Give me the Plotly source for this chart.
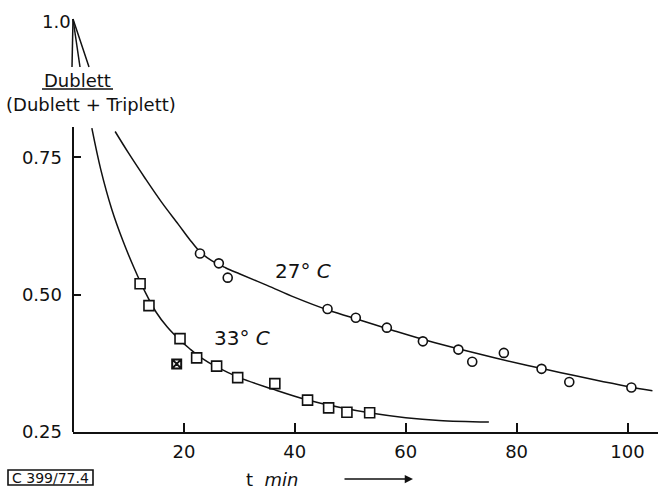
import plotly.graph_objects as go

# ---- data ----
# measured points, 27 °C (circles)
t27 = [22.9, 26.3, 27.9, 45.9, 51.0, 56.6, 63.1, 69.5, 72.0, 77.7, 84.5, 89.5, 100.7]
r27 = [0.575, 0.557, 0.531, 0.474, 0.458, 0.440, 0.415, 0.400, 0.378, 0.394, 0.365, 0.341, 0.331]
# measured points, 33 °C (squares)
t33 = [12.1, 13.7, 19.3, 22.3, 25.9, 29.7, 36.4, 42.3, 46.1, 49.4, 53.5]
r33 = [0.520, 0.480, 0.420, 0.385, 0.370, 0.349, 0.338, 0.308, 0.294, 0.286, 0.285]
# crossed square (outlier, 33 °C)
t33x = [18.7]
r33x = [0.374]
# fitted curves
fit27_t = [7.6, 10, 13, 16, 19, 21, 23, 25, 27.5, 30, 35, 40, 46, 52, 58, 64, 70, 76, 82, 88, 94, 100, 104.5]
fit27_r = [0.797, 0.758, 0.712, 0.668, 0.628, 0.601, 0.577, 0.562, 0.549, 0.538, 0.517, 0.495, 0.472,
           0.453, 0.434, 0.416, 0.400, 0.385, 0.371, 0.358, 0.345, 0.333, 0.325]
fit33_t = [3.4, 5, 7, 9, 11, 13, 15, 17, 19, 21, 23, 26, 30, 36, 42, 48, 54, 60, 66, 75]
fit33_r = [0.803, 0.728, 0.655, 0.598, 0.549, 0.505, 0.468, 0.441, 0.420, 0.402, 0.386, 0.368,
           0.349, 0.328, 0.309, 0.295, 0.284, 0.276, 0.271, 0.268]

xticks = [20, 40, 60, 80, 100]
yticks = [0.25, 0.50, 0.75]
yticktext = ["0.25", "0.50", "0.75"]

# ---- layout geometry ----
W, H = 658, 491
ML, MR, MT, MB = 73, 0, 20, 59
PW, PH = W - ML - MR, H - MT - MB


def px(x):
    return (x - ML) / PW


def py(y):
    return (H - MB - y) / PH


FONT = "DejaVu Sans"
INK = "#111"

fig = go.Figure()
fig.add_trace(go.Scatter(x=fit27_t, y=fit27_r, mode="lines",
                         line=dict(color=INK, width=1.5, shape="spline", smoothing=1.0),
                         hoverinfo="skip"))
fig.add_trace(go.Scatter(x=fit33_t, y=fit33_r, mode="lines",
                         line=dict(color=INK, width=1.5, shape="spline", smoothing=1.0),
                         hoverinfo="skip"))
fig.add_trace(go.Scatter(x=t27, y=r27, mode="markers",
                         marker=dict(symbol="circle", size=9, color="white", line=dict(color=INK, width=1.6))))
fig.add_trace(go.Scatter(x=t33, y=r33, mode="markers",
                         marker=dict(symbol="square", size=10, color="white", line=dict(color=INK, width=1.6))))
fig.add_trace(go.Scatter(x=t33x, y=r33x, mode="markers",
                         marker=dict(symbol="square-x-open", size=9, color=INK, line=dict(color=INK, width=2))))

shapes = [
    # y axis line (partial)
    dict(type="line", xref="paper", yref="paper", x0=0, x1=0, y0=py(127), y1=0,
         line=dict(color=INK, width=2)),
    # fan lines from 1.0
    dict(type="line", xref="paper", yref="paper", x0=px(73), y0=py(19), x1=px(72), y1=py(67),
         line=dict(color=INK, width=1.5)),
    dict(type="line", xref="paper", yref="paper", x0=px(73), y0=py(19), x1=px(80), y1=py(67),
         line=dict(color=INK, width=1.5)),
    dict(type="line", xref="paper", yref="paper", x0=px(73), y0=py(19), x1=px(89), y1=py(67),
         line=dict(color=INK, width=1.5)),
    # fraction bar
    dict(type="line", xref="paper", yref="paper", x0=px(42), y0=py(89), x1=px(113), y1=py(89),
         line=dict(color=INK, width=1.5)),
    # box around code
    dict(type="rect", xref="paper", yref="paper", x0=px(8), y0=py(470), x1=px(93), y1=py(485),
         line=dict(color=INK, width=1.6)),
]

ann = [
    dict(text="1.0", x=px(56), y=py(21)),
    dict(text="Dublett", x=px(77.5), y=py(80)),
    dict(text="(Dublett + Triplett)", x=px(91), y=py(104)),
    dict(text="27° <i>C</i>", x=px(303), y=py(271), size=20),
    dict(text="33° <i>C</i>", x=px(242), y=py(338), size=20),
    dict(text="t  <i>min</i>", x=px(272), y=py(479), size=18),
    dict(text="C 399/77.4", x=px(50.5), y=py(478), size=14),
]
annotations = []
for a in ann:
    annotations.append(dict(text=a["text"], x=a["x"], y=a["y"], xref="paper", yref="paper",
                            xanchor="center", yanchor="middle", showarrow=False,
                            font=dict(family=FONT, size=a.get("size", 18), color=INK)))
# arrow next to "t min"
annotations.append(dict(text="", x=px(413), y=py(479), xref="paper", yref="paper",
                        ax=-70, ay=0, axref="pixel", ayref="pixel", showarrow=True,
                        arrowhead=2, arrowsize=1.1, arrowwidth=1.5, arrowcolor=INK))

fig.update_layout(
    width=W, height=H,
    margin=dict(l=ML, r=MR, t=MT, b=MB, pad=0),
    paper_bgcolor="white", plot_bgcolor="white",
    showlegend=False,
    shapes=shapes,
    annotations=annotations,
    font=dict(family=FONT, size=18, color=INK),
    xaxis=dict(range=[0, 105.5], tickvals=xticks, ticks="inside", ticklen=9, tickwidth=1.5,
               tickcolor=INK, showline=True, linewidth=2, linecolor=INK, showgrid=False,
               zeroline=False, ticklabelstandoff=2,
               tickfont=dict(family=FONT, size=18, color=INK)),
    yaxis=dict(range=[0.25, 1.0], tickvals=yticks, ticktext=yticktext, ticks="inside", ticklen=8,
               tickwidth=1.5, tickcolor=INK, showline=False, showgrid=False, zeroline=False,
               ticklabelstandoff=10, tickfont=dict(family=FONT, size=18, color=INK)),
)

fig.write_html("out.html")
